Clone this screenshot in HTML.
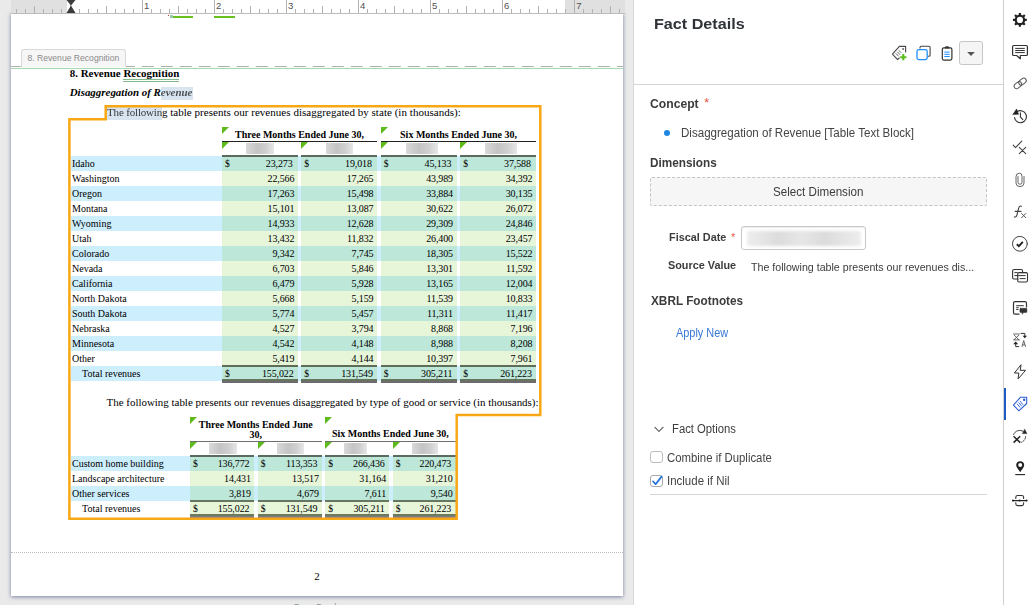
<!DOCTYPE html>
<html><head><meta charset="utf-8"><title>Fact Details</title>
<style>
html,body{margin:0;padding:0}
body{width:1035px;height:605px;overflow:hidden;position:relative;background:#fff;font-family:"Liberation Sans",sans-serif;}
.abs{position:absolute}
#doc{position:absolute;left:0;top:0;width:634px;height:605px;background:#eaeaea;overflow:hidden}
#page{position:absolute;left:11px;top:13px;width:612px;height:583px;background:#fff;box-shadow:0 1px 4px rgba(80,95,135,.75)}
#ruler{position:absolute;left:11px;top:0;width:614px;height:12.5px;background:#fff;border-bottom:1.5px solid #bcbcbc;box-sizing:content-box;overflow:hidden;z-index:3}
.rg{position:absolute;top:0;height:13px;background:#e0e0e0}
.tk{position:absolute;width:1.1px;background:#b2b2b2;bottom:0}
.rn{position:absolute;top:1.2px;font-size:9.5px;line-height:9px;color:#505050}
.ser{font-family:"Liberation Serif",serif;font-size:10.95px;line-height:15px;color:#000;white-space:nowrap}
.tri{position:absolute;width:0;height:0;border-top:7px solid #5fba1e;border-right:7.4px solid transparent}
.row{position:absolute;height:15px;font-size:10px}
.c{position:absolute;top:0;height:15px}
.nm{letter-spacing:-.12px}
.blur{position:absolute;height:10.8px;background:linear-gradient(90deg,#d9d9d9,#c4c4c4 40%,#cfcfcf 70%,#e6e6e6);filter:blur(.6px)}
.lb{font-weight:bold;font-size:13px;color:#3a3a3a;position:absolute;white-space:nowrap}
.tx{font-size:12.5px;color:#444;position:absolute;white-space:nowrap}
</style></head><body>

<div id="doc">
<div id="ruler">
<div class="rg" style="left:0;width:55.7px"></div>
<div class="rg" style="left:554.4px;width:62px"></div>
<div class="tk" style="left:5.0px;height:3.6px"></div>
<div class="tk" style="left:14.0px;height:3.6px"></div>
<div class="tk" style="left:23.0px;height:6.5px"></div>
<div class="tk" style="left:32.0px;height:3.6px"></div>
<div class="tk" style="left:41.0px;height:3.6px"></div>
<div class="tk" style="left:50.0px;height:3.6px"></div>
<div class="tk" style="left:59.0px;height:13px"></div>
<div class="tk" style="left:68.0px;height:3.6px"></div>
<div class="tk" style="left:77.0px;height:3.6px"></div>
<div class="tk" style="left:86.0px;height:3.6px"></div>
<div class="tk" style="left:95.0px;height:6.5px"></div>
<div class="tk" style="left:104.0px;height:3.6px"></div>
<div class="tk" style="left:113.0px;height:3.6px"></div>
<div class="tk" style="left:122.0px;height:3.6px"></div>
<div class="tk" style="left:130.9px;height:13px"></div>
<div class="rn" style="left:133.1px">1</div>
<div class="tk" style="left:139.9px;height:3.6px"></div>
<div class="tk" style="left:148.9px;height:3.6px"></div>
<div class="tk" style="left:157.9px;height:3.6px"></div>
<div class="tk" style="left:166.9px;height:6.5px"></div>
<div class="tk" style="left:175.9px;height:3.6px"></div>
<div class="tk" style="left:184.9px;height:3.6px"></div>
<div class="tk" style="left:193.9px;height:3.6px"></div>
<div class="tk" style="left:202.9px;height:13px"></div>
<div class="rn" style="left:205.1px">2</div>
<div class="tk" style="left:211.9px;height:3.6px"></div>
<div class="tk" style="left:220.9px;height:3.6px"></div>
<div class="tk" style="left:229.9px;height:3.6px"></div>
<div class="tk" style="left:238.9px;height:6.5px"></div>
<div class="tk" style="left:247.9px;height:3.6px"></div>
<div class="tk" style="left:256.9px;height:3.6px"></div>
<div class="tk" style="left:265.9px;height:3.6px"></div>
<div class="tk" style="left:274.9px;height:13px"></div>
<div class="rn" style="left:277.1px">3</div>
<div class="tk" style="left:283.9px;height:3.6px"></div>
<div class="tk" style="left:292.9px;height:3.6px"></div>
<div class="tk" style="left:301.9px;height:3.6px"></div>
<div class="tk" style="left:310.9px;height:6.5px"></div>
<div class="tk" style="left:319.9px;height:3.6px"></div>
<div class="tk" style="left:328.9px;height:3.6px"></div>
<div class="tk" style="left:337.9px;height:3.6px"></div>
<div class="tk" style="left:346.9px;height:13px"></div>
<div class="rn" style="left:349.1px">4</div>
<div class="tk" style="left:355.9px;height:3.6px"></div>
<div class="tk" style="left:364.9px;height:3.6px"></div>
<div class="tk" style="left:373.9px;height:3.6px"></div>
<div class="tk" style="left:382.9px;height:6.5px"></div>
<div class="tk" style="left:391.9px;height:3.6px"></div>
<div class="tk" style="left:400.9px;height:3.6px"></div>
<div class="tk" style="left:409.9px;height:3.6px"></div>
<div class="tk" style="left:418.9px;height:13px"></div>
<div class="rn" style="left:421.1px">5</div>
<div class="tk" style="left:427.9px;height:3.6px"></div>
<div class="tk" style="left:436.9px;height:3.6px"></div>
<div class="tk" style="left:445.9px;height:3.6px"></div>
<div class="tk" style="left:454.9px;height:6.5px"></div>
<div class="tk" style="left:463.9px;height:3.6px"></div>
<div class="tk" style="left:472.9px;height:3.6px"></div>
<div class="tk" style="left:481.9px;height:3.6px"></div>
<div class="tk" style="left:490.9px;height:13px"></div>
<div class="rn" style="left:493.1px">6</div>
<div class="tk" style="left:499.9px;height:3.6px"></div>
<div class="tk" style="left:508.9px;height:3.6px"></div>
<div class="tk" style="left:518.0px;height:3.6px"></div>
<div class="tk" style="left:527.0px;height:6.5px"></div>
<div class="tk" style="left:536.0px;height:3.6px"></div>
<div class="tk" style="left:545.0px;height:3.6px"></div>
<div class="tk" style="left:554.0px;height:3.6px"></div>
<div class="tk" style="left:563.0px;height:13px"></div>
<div class="rn" style="left:565.2px">7</div>
<div class="tk" style="left:572.0px;height:3.6px"></div>
<div class="tk" style="left:581.0px;height:3.6px"></div>
<div class="tk" style="left:590.0px;height:3.6px"></div>
<div class="tk" style="left:599.0px;height:6.5px"></div>
<div class="tk" style="left:608.0px;height:3.6px"></div>
<svg class="abs" style="left:54.5px;top:0" width="10" height="13"><path d="M0.5 0H9.5L5 5.5L9.5 13H0.5L5 5.5Z" fill="#3c3c3c"/></svg>
</div>
<div id="page"></div>
<div class="abs" style="left:172.5px;top:15.9px;width:20.5px;height:1.9px;background:#68c11c"></div>
<div class="abs" style="left:214px;top:15.9px;width:20.5px;height:1.9px;background:#68c11c"></div>
<div class="abs" style="left:170px;top:15px;width:3px;height:3.4px;background:#9cc8b2"></div><div class="abs" style="left:168px;top:15px;width:1px;height:1px;background:#c0392b"></div>
<div class="abs" style="left:11px;top:65.7px;width:612px;height:1.5px;background:repeating-linear-gradient(90deg,#b0b0b0 0 11.6px,transparent 11.6px 19px);background-position:-2.2px 0"></div>
<div class="abs" style="left:11px;top:68px;width:612px;height:1.3px;background:#a9d9ae"></div>
<div class="abs" style="left:21px;top:49px;width:104.5px;height:18px;box-sizing:border-box;border:1px solid #d9d9d9;border-bottom:none;border-radius:3px 3px 0 0;background:#f6f6f6"></div>
<div class="abs" style="left:27.5px;top:52px;font-size:8.6px;line-height:12px;color:#8a8a8a;white-space:nowrap">8. Revenue Recognition</div>
<div class="abs" style="left:161px;top:87px;width:32px;height:12.5px;background:#d8e4f0"></div>
<div class="abs" style="left:107.3px;top:107.3px;width:55.2px;height:13px;background:#d8e4f0"></div>
<div class="ser abs" style="left:69.7px;top:66px;font-weight:bold">8. Revenue <span style="border-bottom:3px double #7fb98d">Recognition</span></div>
<div class="ser abs" style="left:69.7px;top:85px;font-weight:bold;font-style:italic">Disaggregation of R<span style="opacity:.66">evenue</span></div>
<div class="ser abs" style="left:107px;top:105px;font-size:11px"><span style="letter-spacing:-.17px"><span style="opacity:.78">The followin</span>g</span><span style="letter-spacing:.035px"> table presents our revenues disaggregated by state (in thousands):</span></div>
<div class="ser abs" style="left:106.6px;top:394.5px;font-size:10.93px">The following table presents our revenues disaggregated by type of good or service (in thousands):</div>
<div class="row ser" style="left:71.0px;top:156px;width:465.2px;background:#cdeefd">
<div class="c" style="left:1px">Idaho</div>
<div class="c" style="left:150.7px;width:76.3px;background:#bde7d9">
<span class="abs" style="left:3.2px;font-size:9.6px">$</span>
<span class="abs nm" style="right:5.4px">23,273</span>
</div>
<div class="c" style="left:230.0px;width:76.2px;background:#bde7d9">
<span class="abs" style="left:3.2px;font-size:9.6px">$</span>
<span class="abs nm" style="right:5.4px">19,018</span>
</div>
<div class="c" style="left:309.5px;width:76.2px;background:#bde7d9">
<span class="abs" style="left:3.2px;font-size:9.6px">$</span>
<span class="abs nm" style="right:5.4px">45,133</span>
</div>
<div class="c" style="left:389.0px;width:76.2px;background:#bde7d9">
<span class="abs" style="left:3.2px;font-size:9.6px">$</span>
<span class="abs nm" style="right:5.4px">37,588</span>
</div>
</div>
<div class="row ser" style="left:71.0px;top:171px;width:465.2px;background:#fff">
<div class="c" style="left:1px">Washington</div>
<div class="c" style="left:150.7px;width:76.3px;background:#e7f5d9">
<span class="abs nm" style="right:3.7px">22,566</span>
</div>
<div class="c" style="left:230.0px;width:76.2px;background:#e7f5d9">
<span class="abs nm" style="right:3.7px">17,265</span>
</div>
<div class="c" style="left:309.5px;width:76.2px;background:#e7f5d9">
<span class="abs nm" style="right:3.7px">43,989</span>
</div>
<div class="c" style="left:389.0px;width:76.2px;background:#e7f5d9">
<span class="abs nm" style="right:3.7px">34,392</span>
</div>
</div>
<div class="row ser" style="left:71.0px;top:186px;width:465.2px;background:#cdeefd">
<div class="c" style="left:1px">Oregon</div>
<div class="c" style="left:150.7px;width:76.3px;background:#bde7d9">
<span class="abs nm" style="right:3.7px">17,263</span>
</div>
<div class="c" style="left:230.0px;width:76.2px;background:#bde7d9">
<span class="abs nm" style="right:3.7px">15,498</span>
</div>
<div class="c" style="left:309.5px;width:76.2px;background:#bde7d9">
<span class="abs nm" style="right:3.7px">33,884</span>
</div>
<div class="c" style="left:389.0px;width:76.2px;background:#bde7d9">
<span class="abs nm" style="right:3.7px">30,135</span>
</div>
</div>
<div class="row ser" style="left:71.0px;top:201px;width:465.2px;background:#fff">
<div class="c" style="left:1px">Montana</div>
<div class="c" style="left:150.7px;width:76.3px;background:#e7f5d9">
<span class="abs nm" style="right:3.7px">15,101</span>
</div>
<div class="c" style="left:230.0px;width:76.2px;background:#e7f5d9">
<span class="abs nm" style="right:3.7px">13,087</span>
</div>
<div class="c" style="left:309.5px;width:76.2px;background:#e7f5d9">
<span class="abs nm" style="right:3.7px">30,622</span>
</div>
<div class="c" style="left:389.0px;width:76.2px;background:#e7f5d9">
<span class="abs nm" style="right:3.7px">26,072</span>
</div>
</div>
<div class="row ser" style="left:71.0px;top:216px;width:465.2px;background:#cdeefd">
<div class="c" style="left:1px">Wyoming</div>
<div class="c" style="left:150.7px;width:76.3px;background:#bde7d9">
<span class="abs nm" style="right:3.7px">14,933</span>
</div>
<div class="c" style="left:230.0px;width:76.2px;background:#bde7d9">
<span class="abs nm" style="right:3.7px">12,628</span>
</div>
<div class="c" style="left:309.5px;width:76.2px;background:#bde7d9">
<span class="abs nm" style="right:3.7px">29,309</span>
</div>
<div class="c" style="left:389.0px;width:76.2px;background:#bde7d9">
<span class="abs nm" style="right:3.7px">24,846</span>
</div>
</div>
<div class="row ser" style="left:71.0px;top:231px;width:465.2px;background:#fff">
<div class="c" style="left:1px">Utah</div>
<div class="c" style="left:150.7px;width:76.3px;background:#e7f5d9">
<span class="abs nm" style="right:3.7px">13,432</span>
</div>
<div class="c" style="left:230.0px;width:76.2px;background:#e7f5d9">
<span class="abs nm" style="right:3.7px">11,832</span>
</div>
<div class="c" style="left:309.5px;width:76.2px;background:#e7f5d9">
<span class="abs nm" style="right:3.7px">26,400</span>
</div>
<div class="c" style="left:389.0px;width:76.2px;background:#e7f5d9">
<span class="abs nm" style="right:3.7px">23,457</span>
</div>
</div>
<div class="row ser" style="left:71.0px;top:246px;width:465.2px;background:#cdeefd">
<div class="c" style="left:1px">Colorado</div>
<div class="c" style="left:150.7px;width:76.3px;background:#bde7d9">
<span class="abs nm" style="right:3.7px">9,342</span>
</div>
<div class="c" style="left:230.0px;width:76.2px;background:#bde7d9">
<span class="abs nm" style="right:3.7px">7,745</span>
</div>
<div class="c" style="left:309.5px;width:76.2px;background:#bde7d9">
<span class="abs nm" style="right:3.7px">18,305</span>
</div>
<div class="c" style="left:389.0px;width:76.2px;background:#bde7d9">
<span class="abs nm" style="right:3.7px">15,522</span>
</div>
</div>
<div class="row ser" style="left:71.0px;top:261px;width:465.2px;background:#fff">
<div class="c" style="left:1px">Nevada</div>
<div class="c" style="left:150.7px;width:76.3px;background:#e7f5d9">
<span class="abs nm" style="right:3.7px">6,703</span>
</div>
<div class="c" style="left:230.0px;width:76.2px;background:#e7f5d9">
<span class="abs nm" style="right:3.7px">5,846</span>
</div>
<div class="c" style="left:309.5px;width:76.2px;background:#e7f5d9">
<span class="abs nm" style="right:3.7px">13,301</span>
</div>
<div class="c" style="left:389.0px;width:76.2px;background:#e7f5d9">
<span class="abs nm" style="right:3.7px">11,592</span>
</div>
</div>
<div class="row ser" style="left:71.0px;top:276px;width:465.2px;background:#cdeefd">
<div class="c" style="left:1px">California</div>
<div class="c" style="left:150.7px;width:76.3px;background:#bde7d9">
<span class="abs nm" style="right:3.7px">6,479</span>
</div>
<div class="c" style="left:230.0px;width:76.2px;background:#bde7d9">
<span class="abs nm" style="right:3.7px">5,928</span>
</div>
<div class="c" style="left:309.5px;width:76.2px;background:#bde7d9">
<span class="abs nm" style="right:3.7px">13,165</span>
</div>
<div class="c" style="left:389.0px;width:76.2px;background:#bde7d9">
<span class="abs nm" style="right:3.7px">12,004</span>
</div>
</div>
<div class="row ser" style="left:71.0px;top:291px;width:465.2px;background:#fff">
<div class="c" style="left:1px">North Dakota</div>
<div class="c" style="left:150.7px;width:76.3px;background:#e7f5d9">
<span class="abs nm" style="right:3.7px">5,668</span>
</div>
<div class="c" style="left:230.0px;width:76.2px;background:#e7f5d9">
<span class="abs nm" style="right:3.7px">5,159</span>
</div>
<div class="c" style="left:309.5px;width:76.2px;background:#e7f5d9">
<span class="abs nm" style="right:3.7px">11,539</span>
</div>
<div class="c" style="left:389.0px;width:76.2px;background:#e7f5d9">
<span class="abs nm" style="right:3.7px">10,833</span>
</div>
</div>
<div class="row ser" style="left:71.0px;top:306px;width:465.2px;background:#cdeefd">
<div class="c" style="left:1px">South Dakota</div>
<div class="c" style="left:150.7px;width:76.3px;background:#bde7d9">
<span class="abs nm" style="right:3.7px">5,774</span>
</div>
<div class="c" style="left:230.0px;width:76.2px;background:#bde7d9">
<span class="abs nm" style="right:3.7px">5,457</span>
</div>
<div class="c" style="left:309.5px;width:76.2px;background:#bde7d9">
<span class="abs nm" style="right:3.7px">11,311</span>
</div>
<div class="c" style="left:389.0px;width:76.2px;background:#bde7d9">
<span class="abs nm" style="right:3.7px">11,417</span>
</div>
</div>
<div class="row ser" style="left:71.0px;top:321px;width:465.2px;background:#fff">
<div class="c" style="left:1px">Nebraska</div>
<div class="c" style="left:150.7px;width:76.3px;background:#e7f5d9">
<span class="abs nm" style="right:3.7px">4,527</span>
</div>
<div class="c" style="left:230.0px;width:76.2px;background:#e7f5d9">
<span class="abs nm" style="right:3.7px">3,794</span>
</div>
<div class="c" style="left:309.5px;width:76.2px;background:#e7f5d9">
<span class="abs nm" style="right:3.7px">8,868</span>
</div>
<div class="c" style="left:389.0px;width:76.2px;background:#e7f5d9">
<span class="abs nm" style="right:3.7px">7,196</span>
</div>
</div>
<div class="row ser" style="left:71.0px;top:336px;width:465.2px;background:#cdeefd">
<div class="c" style="left:1px">Minnesota</div>
<div class="c" style="left:150.7px;width:76.3px;background:#bde7d9">
<span class="abs nm" style="right:3.7px">4,542</span>
</div>
<div class="c" style="left:230.0px;width:76.2px;background:#bde7d9">
<span class="abs nm" style="right:3.7px">4,148</span>
</div>
<div class="c" style="left:309.5px;width:76.2px;background:#bde7d9">
<span class="abs nm" style="right:3.7px">8,988</span>
</div>
<div class="c" style="left:389.0px;width:76.2px;background:#bde7d9">
<span class="abs nm" style="right:3.7px">8,208</span>
</div>
</div>
<div class="row ser" style="left:71.0px;top:351px;width:465.2px;background:#fff">
<div class="c" style="left:1px">Other</div>
<div class="c" style="left:150.7px;width:76.3px;background:#e7f5d9">
<span class="abs nm" style="right:3.7px">5,419</span>
</div>
<div class="c" style="left:230.0px;width:76.2px;background:#e7f5d9">
<span class="abs nm" style="right:3.7px">4,144</span>
</div>
<div class="c" style="left:309.5px;width:76.2px;background:#e7f5d9">
<span class="abs nm" style="right:3.7px">10,397</span>
</div>
<div class="c" style="left:389.0px;width:76.2px;background:#e7f5d9">
<span class="abs nm" style="right:3.7px">7,961</span>
</div>
</div>
<div class="row ser" style="left:71.0px;top:366px;width:465.2px;background:#cdeefd">
<div class="c" style="left:11px">Total revenues</div>
<div class="c" style="left:150.7px;width:76.3px;background:#bde7d9">
<span class="abs" style="left:3.2px;font-size:9.6px">$</span>
<span class="abs nm" style="right:4.4px">155,022</span>
</div>
<div class="c" style="left:230.0px;width:76.2px;background:#bde7d9">
<span class="abs" style="left:3.2px;font-size:9.6px">$</span>
<span class="abs nm" style="right:4.4px">131,549</span>
</div>
<div class="c" style="left:309.5px;width:76.2px;background:#bde7d9">
<span class="abs" style="left:3.2px;font-size:9.6px">$</span>
<span class="abs nm" style="right:4.4px">305,211</span>
</div>
<div class="c" style="left:389.0px;width:76.2px;background:#bde7d9">
<span class="abs" style="left:3.2px;font-size:9.6px">$</span>
<span class="abs nm" style="right:4.4px">261,223</span>
</div>
</div>
<div class="abs" style="left:221.6px;top:140.6px;width:155.9px;height:1.2px;background:#222"></div>
<div class="abs" style="left:380.6px;top:140.6px;width:155.89999999999998px;height:1.2px;background:#222"></div>
<div class="abs" style="left:221.7px;top:155px;width:76.3px;height:1.6px;background:#5b6a5f"></div>
<div class="abs" style="left:221.7px;top:365px;width:76.3px;height:1.8px;background:#5f6d57"></div>
<div class="abs" style="left:221.7px;top:379px;width:76.3px;height:1.9px;background:#66745b"></div>
<div class="abs" style="left:221.7px;top:380.9px;width:76.3px;height:1.9px;background:#6c6c70"></div>
<div class="abs" style="left:301.0px;top:155px;width:76.2px;height:1.6px;background:#5b6a5f"></div>
<div class="abs" style="left:301.0px;top:365px;width:76.2px;height:1.8px;background:#5f6d57"></div>
<div class="abs" style="left:301.0px;top:379px;width:76.2px;height:1.9px;background:#66745b"></div>
<div class="abs" style="left:301.0px;top:380.9px;width:76.2px;height:1.9px;background:#6c6c70"></div>
<div class="abs" style="left:380.5px;top:155px;width:76.2px;height:1.6px;background:#5b6a5f"></div>
<div class="abs" style="left:380.5px;top:365px;width:76.2px;height:1.8px;background:#5f6d57"></div>
<div class="abs" style="left:380.5px;top:379px;width:76.2px;height:1.9px;background:#66745b"></div>
<div class="abs" style="left:380.5px;top:380.9px;width:76.2px;height:1.9px;background:#6c6c70"></div>
<div class="abs" style="left:460.0px;top:155px;width:76.2px;height:1.6px;background:#5b6a5f"></div>
<div class="abs" style="left:460.0px;top:365px;width:76.2px;height:1.8px;background:#5f6d57"></div>
<div class="abs" style="left:460.0px;top:379px;width:76.2px;height:1.9px;background:#66745b"></div>
<div class="abs" style="left:460.0px;top:380.9px;width:76.2px;height:1.9px;background:#6c6c70"></div>
<div class="ser abs" style="left:221.6px;top:127.2px;width:155.9px;text-align:center;font-weight:bold;font-size:10px">Three Months Ended June 30,</div>
<div class="ser abs" style="left:380.6px;top:127.2px;width:155.9px;text-align:center;font-weight:bold;font-size:10px">Six Months Ended June 30,</div>
<div class="tri" style="left:221.6px;top:127.2px"></div>
<div class="tri" style="left:221.6px;top:141.8px"></div>
<div class="tri" style="left:301.1px;top:141.8px"></div>
<div class="tri" style="left:380.6px;top:127.2px"></div>
<div class="tri" style="left:380.6px;top:141.8px"></div>
<div class="tri" style="left:460.1px;top:141.8px"></div>
<div class="blur" style="left:246px;top:142.8px;width:28px"></div>
<div class="blur" style="left:326px;top:142.8px;width:27px"></div>
<div class="blur" style="left:406px;top:142.8px;width:32px"></div>
<div class="blur" style="left:485px;top:142.8px;width:32px"></div>
<div class="row ser" style="left:71.0px;top:456px;width:384.6px;background:#cdeefd">
<div class="c" style="left:1px">Custom home building</div>
<div class="c" style="left:118.80000000000001px;width:64px;background:#bde7d9">
<span class="abs" style="left:3.2px;font-size:9.6px">$</span>
<span class="abs nm" style="right:4.4px">136,772</span>
</div>
<div class="c" style="left:186.60000000000002px;width:64.2px;background:#bde7d9">
<span class="abs" style="left:3.2px;font-size:9.6px">$</span>
<span class="abs nm" style="right:4.4px">113,353</span>
</div>
<div class="c" style="left:254.10000000000002px;width:64px;background:#bde7d9">
<span class="abs" style="left:3.2px;font-size:9.6px">$</span>
<span class="abs nm" style="right:4.4px">266,436</span>
</div>
<div class="c" style="left:321.6px;width:63px;background:#bde7d9">
<span class="abs" style="left:3.2px;font-size:9.6px">$</span>
<span class="abs nm" style="right:4.4px">220,473</span>
</div>
</div>
<div class="row ser" style="left:71.0px;top:471px;width:384.6px;background:#fff">
<div class="c" style="left:1px">Landscape architecture</div>
<div class="c" style="left:118.80000000000001px;width:64px;background:#e7f5d9">
<span class="abs nm" style="right:3.0px">14,431</span>
</div>
<div class="c" style="left:186.60000000000002px;width:64.2px;background:#e7f5d9">
<span class="abs nm" style="right:3.0px">13,517</span>
</div>
<div class="c" style="left:254.10000000000002px;width:64px;background:#e7f5d9">
<span class="abs nm" style="right:3.0px">31,164</span>
</div>
<div class="c" style="left:321.6px;width:63px;background:#e7f5d9">
<span class="abs nm" style="right:3.0px">31,210</span>
</div>
</div>
<div class="row ser" style="left:71.0px;top:486px;width:384.6px;background:#cdeefd">
<div class="c" style="left:1px">Other services</div>
<div class="c" style="left:118.80000000000001px;width:64px;background:#bde7d9">
<span class="abs nm" style="right:3.0px">3,819</span>
</div>
<div class="c" style="left:186.60000000000002px;width:64.2px;background:#bde7d9">
<span class="abs nm" style="right:3.0px">4,679</span>
</div>
<div class="c" style="left:254.10000000000002px;width:64px;background:#bde7d9">
<span class="abs nm" style="right:3.0px">7,611</span>
</div>
<div class="c" style="left:321.6px;width:63px;background:#bde7d9">
<span class="abs nm" style="right:3.0px">9,540</span>
</div>
</div>
<div class="row ser" style="left:71.0px;top:501px;width:384.6px;background:#fff">
<div class="c" style="left:11px">Total revenues</div>
<div class="c" style="left:118.80000000000001px;width:64px;background:#e7f5d9">
<span class="abs" style="left:3.2px;font-size:9.6px">$</span>
<span class="abs nm" style="right:4.4px">155,022</span>
</div>
<div class="c" style="left:186.60000000000002px;width:64.2px;background:#e7f5d9">
<span class="abs" style="left:3.2px;font-size:9.6px">$</span>
<span class="abs nm" style="right:4.4px">131,549</span>
</div>
<div class="c" style="left:254.10000000000002px;width:64px;background:#e7f5d9">
<span class="abs" style="left:3.2px;font-size:9.6px">$</span>
<span class="abs nm" style="right:4.4px">305,211</span>
</div>
<div class="c" style="left:321.6px;width:63px;background:#e7f5d9">
<span class="abs" style="left:3.2px;font-size:9.6px">$</span>
<span class="abs nm" style="right:4.4px">261,223</span>
</div>
</div>
<div class="abs" style="left:190px;top:440.8px;width:131.60000000000002px;height:1.3px;background:#6e6e6e"></div>
<div class="abs" style="left:325.2px;top:440.8px;width:130.40000000000003px;height:1.3px;background:#6e6e6e"></div>
<div class="abs" style="left:189.8px;top:455.2px;width:64px;height:1.6px;background:#5b6a5f"></div>
<div class="abs" style="left:189.8px;top:500px;width:64px;height:1.8px;background:#66765f"></div>
<div class="abs" style="left:189.8px;top:514.3px;width:64px;height:1.7px;background:#6d7a60"></div>
<div class="abs" style="left:189.8px;top:516px;width:64px;height:1.6px;background:#7d7d89"></div>
<div class="abs" style="left:257.6px;top:455.2px;width:64.2px;height:1.6px;background:#5b6a5f"></div>
<div class="abs" style="left:257.6px;top:500px;width:64.2px;height:1.8px;background:#66765f"></div>
<div class="abs" style="left:257.6px;top:514.3px;width:64.2px;height:1.7px;background:#6d7a60"></div>
<div class="abs" style="left:257.6px;top:516px;width:64.2px;height:1.6px;background:#7d7d89"></div>
<div class="abs" style="left:325.1px;top:455.2px;width:64px;height:1.6px;background:#5b6a5f"></div>
<div class="abs" style="left:325.1px;top:500px;width:64px;height:1.8px;background:#66765f"></div>
<div class="abs" style="left:325.1px;top:514.3px;width:64px;height:1.7px;background:#6d7a60"></div>
<div class="abs" style="left:325.1px;top:516px;width:64px;height:1.6px;background:#7d7d89"></div>
<div class="abs" style="left:392.6px;top:455.2px;width:63px;height:1.6px;background:#5b6a5f"></div>
<div class="abs" style="left:392.6px;top:500px;width:63px;height:1.8px;background:#66765f"></div>
<div class="abs" style="left:392.6px;top:514.3px;width:63px;height:1.7px;background:#6d7a60"></div>
<div class="abs" style="left:392.6px;top:516px;width:63px;height:1.6px;background:#7d7d89"></div>
<div class="ser abs" style="left:190px;top:419.5px;width:131.6px;text-align:center;font-weight:bold;font-size:10px;line-height:10.2px;white-space:normal">Three Months Ended June<br>30,</div>
<div class="ser abs" style="left:325.2px;top:426.4px;width:130.4px;text-align:center;font-weight:bold;font-size:10px">Six Months Ended June 30,</div>
<div class="tri" style="left:189.8px;top:417.2px"></div>
<div class="tri" style="left:189.8px;top:442px"></div>
<div class="tri" style="left:257.6px;top:442px"></div>
<div class="tri" style="left:325.1px;top:417.2px"></div>
<div class="tri" style="left:325.1px;top:442px"></div>
<div class="tri" style="left:392.8px;top:442px"></div>
<div class="blur" style="left:209px;top:442.8px;width:28px"></div>
<div class="blur" style="left:277px;top:442.8px;width:27px"></div>
<div class="blur" style="left:344px;top:442.8px;width:23px"></div>
<div class="blur" style="left:412px;top:442.8px;width:26px"></div>
<svg class="abs" style="left:0;top:0" width="634" height="605"><path d="M105.7 106.2H540.3V415.1H456.7V518.8H69.4V119.3H105.7Z" fill="none" stroke="#f8a815" stroke-width="2.5"/></svg>
<div class="abs" style="left:11px;top:552.2px;width:612px;height:0;border-top:1px dotted #bdbdbd"></div>
<div class="ser abs" style="left:11px;top:569px;width:612px;text-align:center">2</div>
<div class="abs" style="left:294px;top:601.9px;font-size:8.5px;line-height:10px;color:#909090;white-space:nowrap">Page Break</div>
</div>
<div id="panel" class="abs" style="left:633px;top:0;width:370.5px;height:605px;background:#fff;border-left:1px solid #d9d9d9;box-sizing:border-box">
<div class="abs" style="left:19.8px;top:16.47px;font-size:14.8px;line-height:16px;font-weight:bold;color:#2f3338;white-space:nowrap;transform-origin:0 0;transform:scaleX(1.0917);">Fact Details</div>
<div class="abs" style="left:0;top:84px;width:370px;height:1px;background:#d4d4d4"></div>
  <svg class="abs" style="left:256px;top:43px" width="20" height="20" viewBox="890 43 20 20">
    <path d="M892.4 54.1L899.4 46.4H905.6V52.6" fill="none" stroke="#4a4a4a" stroke-width="1.15" stroke-linejoin="round"/>
    <path d="M892.4 54.1L897.6 59.6L899.6 57.6" fill="none" stroke="#4a4a4a" stroke-width="1.15" stroke-linejoin="round"/>
    <path d="M895.7 53.3L898.7 56.3M897.2 51.8L900.2 54.8M898.7 50.3L901.2 52.8" stroke="#555" stroke-width=".9"/>
    <circle cx="903.1" cy="49" r=".9" fill="#555"/>
    <path d="M903.3 54.1V60.3M900.2 57.2H906.4" stroke="#5bbd1e" stroke-width="2.1"/>
  </svg>
  <svg class="abs" style="left:281px;top:43px" width="20" height="20" viewBox="915 43 20 20">
    <path d="M920 48.5V47.6Q920 46.3 921.3 46.3H928.8Q930.1 46.3 930.1 47.6V55Q930.1 56.3 928.8 56.3H928" fill="none" stroke="#444" stroke-width="1.1"/>
    <rect x="917" y="49.6" width="10.2" height="10" rx="1.8" fill="#fff" stroke="#1e8fff" stroke-width="1.3"/>
  </svg>
  <svg class="abs" style="left:305px;top:43px" width="20" height="20" viewBox="939 43 20 20">
    <rect x="942.3" y="47.9" width="9.6" height="12.2" rx="1.5" fill="#fff" stroke="#333" stroke-width="1.2"/>
    <path d="M944.9 48.6V47.2Q944.9 46.6 945.6 46.6H946.3Q947.1 45.4 947.9 46.6H948.6Q949.3 46.6 949.3 47.2V48.6Z" fill="#333"/>
    <path d="M944.3 52.1H949.7M944.3 54.3H949.7M944.3 56.5H949.7" stroke="#1e8fff" stroke-width="1"/>
  </svg>
  <div class="abs" style="left:325.3px;top:41.2px;width:23.5px;height:23.4px;box-sizing:border-box;border:1.2px solid #c6c6c6;border-radius:2.5px;background:#f5f5f5"></div>
  <svg class="abs" style="left:331px;top:49px" width="12" height="9" viewBox="965 49 12 9"><path d="M967.2 51.9H974.8L971 55.9Z" fill="#555"/></svg>

<div class="abs" style="left:16.1px;top:95.79px;font-size:12.15px;line-height:16px;font-weight:bold;color:#3c3c3c;white-space:nowrap;transform-origin:0 0;transform:scaleX(1.0020);">Concept</div>
<div class="abs" style="left:70.2px;top:96.4px;font-size:12.5px;color:#e2513a;line-height:14px">*</div>
<div class="abs" style="left:29.7px;top:129.6px;width:6.6px;height:6.6px;border-radius:50%;background:#1f86e0"></div>
<div class="abs" style="left:46.6px;top:124.89px;font-size:11.87px;line-height:16px;font-weight:normal;color:#444;white-space:nowrap;transform-origin:0 0;transform:scaleX(0.9749);">Disaggregation of Revenue [Table Text Block]</div>
<div class="abs" style="left:16.4px;top:155.19px;font-size:12.15px;line-height:16px;font-weight:bold;color:#3c3c3c;white-space:nowrap;transform-origin:0 0;transform:scaleX(0.9700);">Dimensions</div>
<div class="abs" style="left:15.7px;top:176.8px;width:337.1px;height:29.5px;box-sizing:border-box;border:1px dashed #c4c4c4;border-radius:2px;background:#f6f6f6"></div>
<div class="abs" style="left:139.2px;top:184.04px;font-size:12.29px;line-height:16px;font-weight:normal;color:#3c3c3c;white-space:nowrap;transform-origin:0 0;transform:scaleX(0.9463);">Select Dimension</div>
<div class="abs" style="left:35.0px;top:229.38px;font-size:11.59px;line-height:16px;font-weight:bold;color:#3c3c3c;white-space:nowrap;transform-origin:0 0;transform:scaleX(0.9379);">Fiscal Date</div>
<div class="abs" style="left:97.3px;top:232.3px;font-size:10px;color:#e2513a;line-height:12px">*</div>
<div class="abs" style="left:106.9px;top:226px;width:125.1px;height:24px;box-sizing:border-box;border:1px solid #c9c9c9;border-radius:3px;background:#fff;box-shadow:inset 0 1px 1px rgba(0,0,0,.08)"></div>
<div class="abs" style="left:113px;top:230.5px;width:114px;height:15px;background:linear-gradient(90deg,#ededed,#dcdcdc 28%,#e6e6e6 48%,#dbdbdb 68%,#ededed);filter:blur(1.6px)"></div>
<div class="abs" style="left:33.8px;top:257.28px;font-size:11.59px;line-height:16px;font-weight:bold;color:#3c3c3c;white-space:nowrap;transform-origin:0 0;transform:scaleX(0.9369);">Source Value</div>
<div class="abs" style="left:116.6px;top:259.33px;font-size:11.45px;line-height:16px;font-weight:normal;color:#3c3c3c;white-space:nowrap;transform-origin:0 0;transform:scaleX(0.9310);">The following table presents our revenues dis...</div>
<div class="abs" style="left:17.1px;top:292.99px;font-size:12.15px;line-height:16px;font-weight:bold;color:#3c3c3c;white-space:nowrap;transform-origin:0 0;transform:scaleX(0.9710);">XBRL Footnotes</div>
<div class="abs" style="left:41.5px;top:325.04px;font-size:12.01px;line-height:16px;font-weight:normal;color:#3876d6;white-space:nowrap;transform-origin:0 0;transform:scaleX(0.9093);">Apply New</div>
<svg class="abs" style="left:18.5px;top:424.5px" width="12" height="9" viewBox="0 0 12 9"><path d="M1.6 2L6 6.4L10.4 2" fill="none" stroke="#6a6a6a" stroke-width="1.1"/></svg>
<div class="abs" style="left:38.3px;top:420.84px;font-size:12.01px;line-height:16px;font-weight:normal;color:#3c3c3c;white-space:nowrap;transform-origin:0 0;transform:scaleX(0.9400);">Fact Options</div>
<div class="abs" style="left:16.1px;top:451.3px;width:12.6px;height:12px;box-sizing:border-box;border:1px solid #bdbdbd;border-radius:3px;background:#fff"></div>
<div class="abs" style="left:33.1px;top:449.84px;font-size:12.01px;line-height:16px;font-weight:normal;color:#444;white-space:nowrap;transform-origin:0 0;transform:scaleX(0.9475);">Combine if Duplicate</div>
<div class="abs" style="left:16.1px;top:474.6px;width:12.6px;height:12px;box-sizing:border-box;border:1px solid #a9a9a9;border-radius:3px;background:#fff"></div>
<svg class="abs" style="left:16px;top:472.5px" width="15" height="15" viewBox="0 0 15 15"><path d="M3 8.3L5.6 11.2L11.6 3.6" fill="none" stroke="#1e6fd9" stroke-width="1.7" stroke-linecap="round" stroke-linejoin="round"/></svg>
<div class="abs" style="left:33.1px;top:472.64px;font-size:12.01px;line-height:16px;font-weight:normal;color:#444;white-space:nowrap;transform-origin:0 0;transform:scaleX(0.9569);">Include if Nil</div>
<div class="abs" style="left:16px;top:494px;width:337px;height:1px;background:#d6d6d6"></div>
</div>
<div id="side" class="abs" style="left:1003px;top:0;width:32px;height:605px;background:#fff;border-left:1px solid #cfcfcf;box-sizing:border-box">
<div class="abs" style="left:0.2px;top:388px;width:2px;height:32px;background:#1b5cc6"></div>
<svg class="abs" style="left:-1px;top:0" width="32" height="605" viewBox="1003 0 32 605" fill="none" stroke="#444" stroke-width="1.1" stroke-linecap="round" stroke-linejoin="round">
 <!-- gear -->
 <g stroke="#222" stroke-width="2.2" stroke-linecap="butt">
  <circle cx="1019.9" cy="19.9" r="4.2"/>
  <path d="M1019.9 13V15.4M1019.9 24.4V26.8M1024.4 19.9H1026.8M1015 15L1016.7 16.7M1023.1 23.1L1024.8 24.8M1015 24.8L1016.7 23.1M1023.1 16.7L1024.8 15"/>
  <path d="M1013 19.9H1015.4"/>
 </g>
 <!-- comment -->
 <path d="M1013.7 45.5H1026.3Q1027.4 45.5 1027.4 46.6V54.4Q1027.4 55.5 1026.3 55.5H1020.3V58.8L1016.6 55.5H1013.7Q1012.6 55.5 1012.6 54.4V46.6Q1012.6 45.5 1013.7 45.5Z" stroke="#333" stroke-width="1.2"/>
 <path d="M1015.2 48.4H1024.8M1015.2 50.5H1024.8M1015.2 52.6H1024.8" stroke="#333" stroke-width="1" stroke-linecap="butt"/>
 <!-- link -->
 <g transform="rotate(-38 1020.2 83.4)" stroke="#555" stroke-width="1">
  <rect x="1013.2" y="80.9" width="8.2" height="5" rx="2.5"/>
  <rect x="1019" y="80.9" width="8.2" height="5" rx="2.5"/>
 </g>
 <!-- history -->
 <path d="M1017.2 111.6A6 6 0 1 1 1014.5 117.6" stroke="#333" stroke-width="1.1"/>
 <path d="M1013 114.3L1016.6 109L1018.4 114Z" fill="#222" stroke="#222" stroke-width=".6"/>
 <path d="M1020.4 112.8V116.8L1022.8 119.6" stroke="#333" stroke-width="1.1"/>
 <!-- check / x -->
 <path d="M1013.2 145.1L1015.5 147.6L1021.8 141.2" stroke="#444" stroke-width="1.1"/>
 <path d="M1019.3 147.4L1025.7 153.6M1025.7 147.4L1019.3 153.6" stroke="#444" stroke-width="1.1"/>
 <!-- paperclip -->
 <path d="M1024 176.5V183Q1024 186.6 1020 186.6Q1016 186.6 1016 183V176.6Q1016 173.2 1019.5 173.2Q1022 173.2 1022 176.3V182.4Q1022 184.2 1020 184.2Q1018 184.2 1018 182.4V176.5" stroke="#555" stroke-width=".9"/>
 <!-- fx -->
 <path d="M1014.4 216.9Q1016.4 217.6 1017 214.6L1018.6 208.5Q1019.3 205.4 1021.4 206.3" stroke="#444" stroke-width="1.1"/>
 <path d="M1015.2 211.4H1021" stroke="#444" stroke-width="1.1"/>
 <path d="M1021.6 213.5L1025.8 217.7M1025.8 213.5L1021.6 217.7" stroke="#555" stroke-width="1"/>
 <!-- check circle -->
 <circle cx="1019.9" cy="243.8" r="7.4" stroke="#444" stroke-width="1"/>
 <path d="M1016.8 244.2L1018.9 246.2L1022.8 241.9" stroke="#222" stroke-width="1.9" stroke-linecap="butt" stroke-linejoin="miter"/>
 <!-- two boxes -->
 <path d="M1018 279H1014Q1012.6 279 1012.6 277.6V270.9Q1012.6 269.5 1014 269.5H1021.2Q1022.6 269.5 1022.6 270.9V272" stroke="#333" stroke-width="1.1"/>
 <rect x="1017.7" y="272.6" width="9.8" height="9.4" rx="1.4" stroke="#333" stroke-width="1.1"/>
 <path d="M1014.4 272.6H1017.6M1019.6 272.6H1025.8M1014.4 275.6H1025.6M1019.6 278.6H1025.6" stroke="#333" stroke-width="1" stroke-linecap="butt"/>
 <!-- note w/ bubble -->
 <path d="M1019 314.2H1015Q1013.5 314.2 1013.5 312.7V303.2Q1013.5 301.7 1015 301.7H1025Q1026.5 301.7 1026.5 303.2V307" stroke="#333" stroke-width="1.2"/>
 <path d="M1016.2 305.7H1023.8M1016.2 307.7H1018.8M1016.2 309.5H1018.4" stroke="#333" stroke-width="1" stroke-linecap="butt"/>
 <path d="M1020.6 308.3H1026.2Q1026.9 308.3 1026.9 309V311.8Q1026.9 312.5 1026.2 312.5H1023.6L1022.2 314.3V312.5H1020.6Q1019.9 312.5 1019.9 311.8V309Q1019.9 308.3 1020.6 308.3Z" fill="#333" stroke="#333" stroke-width=".5"/>
 <!-- translate -->
 <g stroke="#555" stroke-width=".9" stroke-linecap="butt">
  <path d="M1013.2 334H1019.8M1014 335L1019 339.8M1019 335L1014 339.8M1013.2 339.9H1019.8"/>
  <path d="M1021.9 346.8L1023.7 340.6L1025.6 346.8M1022.5 344.9H1025"/>
 </g>
 <path d="M1021 333.4H1024.8V336" stroke="#333" stroke-width="1"/>
 <path d="M1022.6 335.8H1027L1024.8 338.2Z" fill="#222" stroke="none"/>
 <path d="M1018.8 346.6H1015.7V344" stroke="#333" stroke-width="1"/>
 <path d="M1013.2 344.2H1018.2L1015.7 341.4Z" fill="#222" stroke="none"/>
 <!-- bolt -->
 <path d="M1020.8 365L1014.4 373H1018.8L1018.1 379L1025.6 370.3H1020.6Z" stroke="#333" stroke-width="1"/>
 <!-- tag (active) -->
 <g stroke="#2a5bd0" stroke-width="1.05">
  <path d="M1013.4 405.1L1020.6 397.2H1026.7V403.5L1018.9 410.8Z"/>
  <path d="M1017.3 404L1019.9 407.2M1018.9 402.7L1021.5 405.9M1020.3 401.4L1022.9 404.6" stroke-width=".9"/>
  <circle cx="1024.2" cy="399.8" r=".7" fill="#2a5bd0"/>
 </g>
 <!-- sync x -->
 <path d="M1013.6 434.6A6.2 6.2 0 0 1 1023.4 431.6" stroke="#444" stroke-width="1"/>
 <path d="M1025.6 436.6A6.2 6.2 0 0 1 1021.4 442.2" stroke="#444" stroke-width="1" stroke-dasharray="2.2 1.2"/>
 <path d="M1022.6 433.6L1026.8 433.6L1024.8 429.4Z" fill="#222" stroke="#222" stroke-width=".5"/>
 <path d="M1013.6 436.2L1020.2 442.6M1020.2 436.2L1013.6 442.6" stroke="#222" stroke-width="1.5" stroke-linecap="butt"/>
 <!-- pin -->
 <path d="M1020.2 461.2C1017.9 461.2 1016.2 462.9 1016.2 465.1C1016.2 467.6 1018.6 469.6 1020.2 472.3C1021.8 469.6 1024.2 467.6 1024.2 465.1C1024.2 462.9 1022.5 461.2 1020.2 461.2Z" fill="#222" stroke="none"/>
 <circle cx="1020.2" cy="465" r="2" fill="#fff" stroke="none"/>
 <path d="M1015.3 474.6H1025" stroke="#222" stroke-width="1.1" stroke-linecap="butt"/>
 <!-- strike -->
 <path d="M1015.8 498.4V497.3Q1015.8 495.5 1017.6 495.5H1021.8Q1023.6 495.5 1023.6 497.3V498.4M1015.8 502.8V503.8Q1015.8 505.6 1017.6 505.6H1021.8Q1023.6 505.6 1023.6 503.8V502.8" stroke="#333" stroke-width="1.1"/>
 <path d="M1012.6 500.6H1026.8" stroke="#222" stroke-width="1.3"/>
 <circle cx="1013" cy="500.6" r="1" fill="#222" stroke="none"/><circle cx="1019.7" cy="500.6" r="1" fill="#222" stroke="none"/><circle cx="1026.5" cy="500.6" r="1" fill="#222" stroke="none"/>
</svg>

</div>
</body></html>
